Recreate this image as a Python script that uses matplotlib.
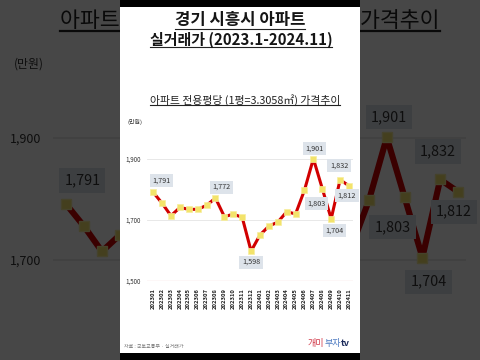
import matplotlib.pyplot as plt
from matplotlib.lines import Line2D
from matplotlib.patches import Rectangle

plt.rcParams['font.family'] = ['Noto Sans CJK KR', 'DejaVu Sans']

months = ['202301', '202302', '202303', '202304', '202305', '202306',
          '202307', '202308', '202309', '202310', '202311', '202312',
          '202401', '202402', '202403', '202404', '202405', '202406',
          '202407', '202408', '202409', '202410', '202411']
prices = [1791, 1755, 1714, 1741, 1735, 1735, 1748, 1772, 1711, 1719, 1709, 1598,
          1651, 1680, 1693, 1727, 1720, 1798, 1901, 1803, 1704, 1832, 1812]
yticks = [1500, 1700, 1900]
label_idx = [0, 7, 11, 18, 19, 20, 21, 22]

# where each value box sits relative to its point (pixels, +y = down)
label_off = {0: (8, -12), 7: (6, -11), 11: (0, 11), 18: (1, -10),
             19: (-6, 15), 20: (3, 12), 21: (-1, -14), 22: (-2, 10)}

fig = plt.figure(figsize=(4.8, 3.6), dpi=100)
fig.patch.set_facecolor('white')


def fx(px, s):
    return (s * (px - 240) + 240) / 480


def fy(py, s):
    return 1 - (s * (py - 180) + 180) / 360


underlined = []
bg_labels = []


def draw(s, z):
    # s = zoom about the frame centre (2 for the darkened backdrop)
    l, r, t, b = 146.5, 353, 128.5, 281
    ax = fig.add_axes([fx(l, s), fy(b, s), fx(r, s) - fx(l, s), fy(t, s) - fy(b, s)])
    ax.set_zorder(z)
    ax.patch.set_alpha(0)
    x = list(range(len(months)))
    ax.plot(x, prices, color='#d10000', lw=2.2 * s, marker='s', ms=3.8 * s,
            mfc='#f3e36b', mec='#f7ee9e', mew=0.5 * s, zorder=3)
    for i in label_idx:
        dx, dy = label_off[i]
        a = ax.annotate(f'{prices[i]:,}', (i, prices[i]),
                        xytext=(dx * 0.72 * s, -dy * 0.72 * s), textcoords='offset points',
                        ha='center', va='center', fontsize=5.2 * s, color='#333333',
                        bbox=dict(boxstyle='square,pad=0.35', fc='#dde3ea', ec='none'),
                        zorder=4)
        if s != 1:
            bg_labels.append(a)
    ax.set_xlim(-0.75, 22.45)
    ax.set_ylim(1500, 2000)
    ax.set_yticks(yticks)
    ax.set_xticks(x)
    if s == 1:
        ax.set_yticklabels([f'{v:,}' for v in yticks])
        ax.set_xticklabels(months, rotation=90, fontweight='bold')
    else:
        # the backdrop's lower labels fall below the frame
        ax.set_yticklabels([''] + [f'{v:,}' for v in yticks[1:]])
        ax.set_xticklabels([])
    ax.tick_params(axis='y', length=0, pad=4.3 * s, labelsize=4.5 * s, labelcolor='#333333')
    ax.tick_params(axis='x', length=0, pad=5 * s, labelsize=4.2 * s, labelcolor='#222222')
    for sp in ax.spines.values():
        sp.set_visible(False)
    for v in yticks[1:]:
        ax.axhline(v, color='#e4e4e4', lw=0.6 * s, zorder=1)
    ax.axhline(1500, color='#e57c7c', lw=0.8 * s, zorder=1)

    t3 = fig.text(fx(245, s), fy(100, s), '아파트 전용평당 (1평=3.3058㎡) 가격추이',
                  ha='center', va='center', fontsize=7.8 * s, color='#222222', zorder=z)
    fig.text(fx(127, s), fy(122, s), '(만원)', ha='left', va='center',
             fontsize=4.3 * s, color='#333333', zorder=z)
    underlined.append((t3, s, z))
    if s != 1:
        return
    t1 = fig.text(fx(240, s), fy(20, s), '경기 시흥시 아파트', ha='center', va='center',
                  fontsize=12, fontweight='semibold', color='#151515', zorder=z)
    t2 = fig.text(fx(241, s), fy(39.5, s), '실거래가 (2023.1-2024.11)', ha='center',
                  va='center', fontsize=10.8, fontweight='semibold', color='#151515', zorder=z)
    underlined.extend([(t1, s, z), (t2, s, z)])
    fig.text(fx(124, s), fy(346, s), '자료 : 국토교통부 · 실거래가', ha='left', va='center',
             fontsize=3.6, color='#777777', zorder=z)
    ta = fig.text(fx(308, s), fy(343.5, s), '개미', ha='left', va='center',
                  fontsize=6.5, color='#d23a4a', zorder=z)
    tb = ax.annotate('부자', xy=(1, 0.5), xycoords=ta, ha='left', va='center',
                     fontsize=6.5, color='#4a78c0', annotation_clip=False)
    ax.annotate('tv', xy=(1, 0.5), xycoords=tb, ha='left', va='center', fontweight='bold',
                fontsize=6.5, color='#1a2a5a', annotation_clip=False)


draw(2, 0)
fig.add_artist(Rectangle((0, 0), 1, 1, transform=fig.transFigure,
                         fc='black', alpha=0.72, ec='none', zorder=1))
fig.add_artist(Rectangle((fx(120, 1), 0), fx(360, 1) - fx(120, 1), 1,
                         transform=fig.transFigure, fc='white', ec='none', zorder=2))
draw(1, 3)
for y0, y1 in [(0, 7), (353, 360)]:
    fig.add_artist(Rectangle((fx(120, 1), fy(y1, 1)), fx(360, 1) - fx(120, 1),
                             fy(y0, 1) - fy(y1, 1), transform=fig.transFigure,
                             fc='black', ec='none', zorder=6))

fig.canvas.draw()
rend = fig.canvas.get_renderer()
# backdrop value boxes hidden entirely behind the white frame are not needed
for a in bg_labels:
    bb = a.get_window_extent(rend)
    if bb.x0 > 120 and bb.x1 < 360:
        a.remove()
for t, s, z in underlined:
    bb = t.get_window_extent(rend)
    yy = (bb.y0 + 0.5 * s) / 360
    fig.add_artist(Line2D([bb.x0 / 480, bb.x1 / 480], [yy, yy], transform=fig.transFigure,
                          color='#222222', lw=0.8 * s, zorder=z))

fig.savefig('out.png', dpi=100)
